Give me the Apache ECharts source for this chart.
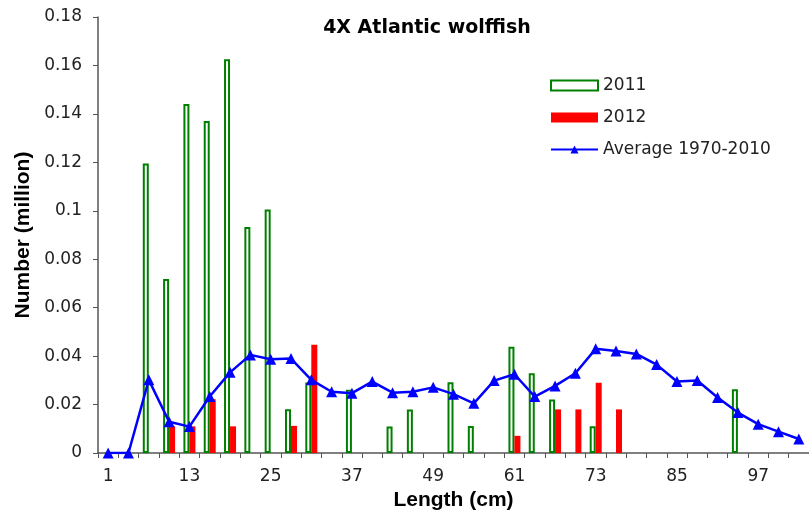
<!DOCTYPE html>
<html><head><meta charset="utf-8">
<script src="https://cdn.jsdelivr.net/npm/echarts@6/dist/echarts.min.js"></script>
<style>html,body{margin:0;padding:0;background:#fff}#c{width:809px;height:520px}</style>
</head><body><div id="c"></div>
<script>
const categories = ['1','4','7','10','13','16','19','22','25','28','31','34','37','40','43','46','49','52','55','58','61','64','67','70','73','76','79','82','85','88','91','94','97','100','103'];
const y2011 = [0,0,0.1195,0.0718,0.1441,0.1371,0.1626,0.0933,0.1005,0.0181,0.0291,0,0.0261,0,0.0109,0.018,0,0.0292,0.0111,0,0.0439,0.0329,0.0221,0,0.011,0,0,0,0,0,0,0.0263,0,0,0];
const y2012 = [0,0,0,0.011,0.011,0.0222,0.011,0,0,0.0112,0.0447,0,0,0,0,0,0,0,0,0,0.0071,0,0.018,0.018,0.029,0.018,0,0,0,0,0,0,0,0,0];
const avg = [0,0,0.0302,0.0129,0.0109,0.0233,0.0333,0.0405,0.0387,0.039,0.0302,0.0253,0.0247,0.0295,0.0249,0.0253,0.0271,0.0243,0.0205,0.0299,0.0325,0.0233,0.0277,0.0329,0.043,0.0421,0.0409,0.0365,0.0295,0.0299,0.0229,0.0167,0.0119,0.0088,0.0058];
const yTicks = {min:0, max:0.18, interval:0.02};

// empty bars are not drawn (no zero-height outline)
const hideZero = arr => arr.map(v => v === 0 ? '-' : v);

const chart = echarts.init(document.getElementById('c'), null, {renderer:'canvas'});
const wide = '"DejaVu Sans", sans-serif';
const arial = '"Liberation Sans", Arial, sans-serif';
chart.setOption({
  animation:false,
  title:{text:'4X Atlantic wolffish', left:427, top:19, textAlign:'center', padding:0,
    textStyle:{fontFamily:wide, fontSize:19, fontWeight:'bold', color:'#000'}},
  legend:{orient:'vertical', left:550, top:77, padding:0, itemWidth:47, itemHeight:10, itemGap:15,
    textStyle:{fontFamily:wide, fontSize:17, color:'#222'},
    data:[{name:'2011', icon:'rect'},{name:'2012', icon:'rect'},{name:'Average 1970-2010'}]},
  grid:{left:98, top:17, right:-5, bottom:67, containLabel:false},
  xAxis:{type:'category', data:categories, boundaryGap:true,
    name:'Length (cm)', nameLocation:'middle', nameGap:37,
    nameTextStyle:{fontFamily:arial, fontSize:21, fontWeight:'bold', color:'#000'},
    axisLine:{lineStyle:{color:'#555', width:1.5}},
    axisTick:{show:true, interval:0, length:5, lineStyle:{color:'#555'}},
    axisLabel:{interval:3, margin:15, fontFamily:wide, fontSize:17, color:'#222'},
    splitLine:{show:false}},
  yAxis:{type:'value', min:yTicks.min, max:yTicks.max, interval:yTicks.interval,
    name:'Number (million)', nameLocation:'middle', nameGap:64, nameRotate:90,
    nameTextStyle:{fontFamily:arial, fontSize:21, fontWeight:'bold', color:'#000'},
    axisLine:{show:true, lineStyle:{color:'#555', width:1.5}},
    axisTick:{show:true, length:5, lineStyle:{color:'#555'}},
    axisLabel:{margin:16, fontFamily:wide, fontSize:17, color:'#222',
      formatter:v=>String(Math.round(v*100)/100)},
    splitLine:{show:false}},
  series:[
    {name:'2011', type:'bar', data:hideZero(y2011), barWidth:6, barGap:'0%',
      itemStyle:{color:'#ffffff', borderColor:'#008000', borderWidth:2}},
    {name:'2012', type:'bar', data:hideZero(y2012), barWidth:6, barGap:'0%',
      itemStyle:{color:'#ff0000'}},
    {name:'Average 1970-2010', type:'line', data:avg, symbol:'triangle', symbolSize:11,
      lineStyle:{color:'#0000ff', width:2.5}, itemStyle:{color:'#0000ff'}, z:5}
  ]
});
</script></body></html>
